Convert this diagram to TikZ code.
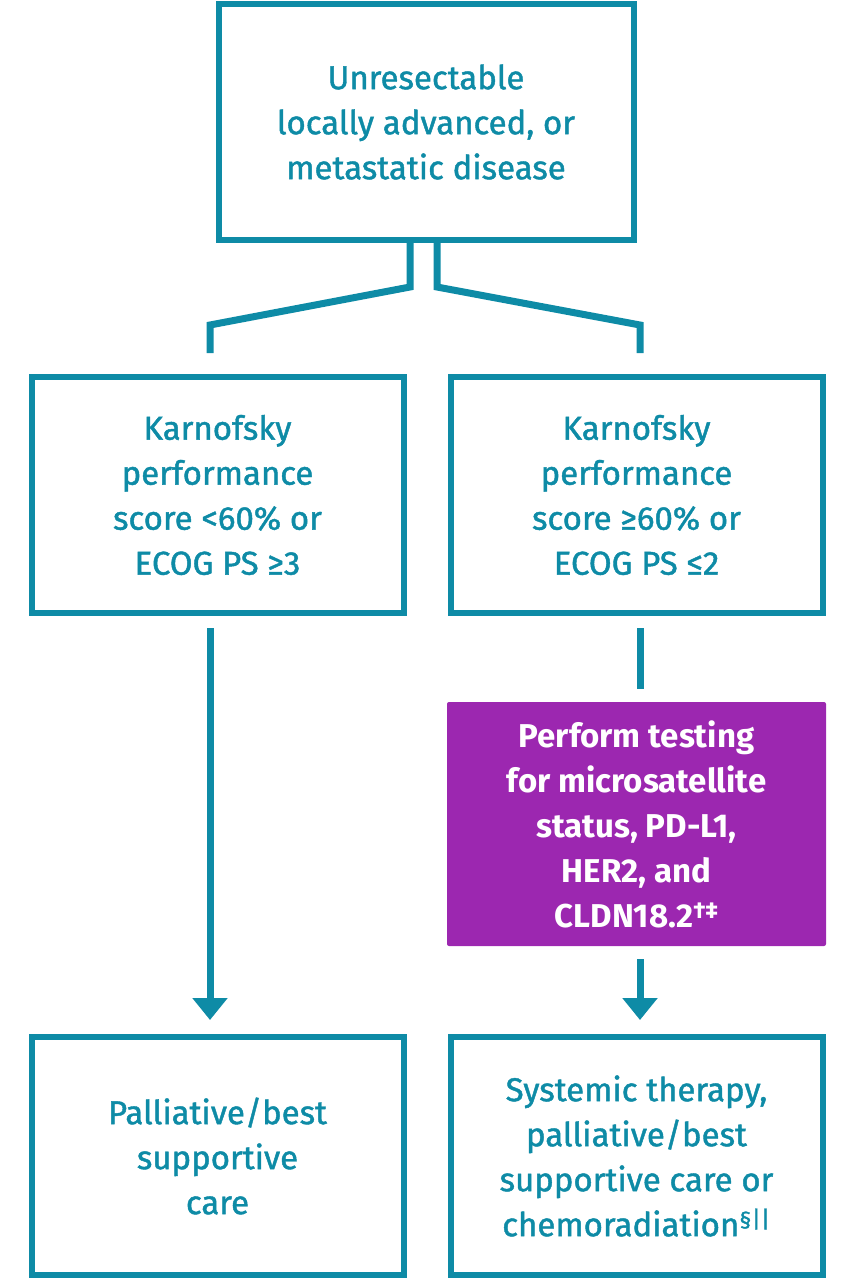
\documentclass[tikz,border=0pt]{standalone}
\usepackage{fontspec}
\setmainfont{Fira Sans}
\newfontfamily\medfont[FakeBold=1.3]{Fira Sans}
\usetikzlibrary{arrows.meta}
\definecolor{teal}{HTML}{0E8BA6}
\definecolor{purp}{HTML}{9C27B0}
\tikzset{
 box/.style={draw=teal,line width=6pt,text=teal,align=center,font=\medfont\fontsize{33}{45}\selectfont,inner sep=0pt},
 pbox/.style={fill=purp,text=white,align=center,font=\bfseries\fontsize{33}{45}\selectfont,inner sep=0pt,rounded corners=2pt},
 conn/.style={draw=teal,line width=7pt},
 arr/.style={conn,-{Triangle[length=22pt,width=34pt]}}
}
\begin{document}
\begin{tikzpicture}[x=1pt,y=-1pt]
\useasboundingbox (0,0) rectangle (854,1280);
\node[box,minimum width=415,minimum height=236] (top) at (426,122) {Unresectable\\locally advanced, or\\metastatic disease};
\node[box,minimum width=372,minimum height=236] (ml) at (217.5,495) {Karnofsky\\performance\\score <60\% or\\ECOG PS ≥3};
\node[box,minimum width=372,minimum height=236] (mr) at (636.5,495) {Karnofsky\\performance\\score ≥60\% or\\ECOG PS ≤2};
\node[pbox,minimum width=379,minimum height=244] (pt) at (636.5,824) {Perform testing\\for microsatellite\\status, PD-L1,\\HER2, and\\CLDN18.2\textsuperscript{†‡}};
\node[box,minimum width=372,minimum height=238] (bl) at (217.5,1156) {Palliative/best\\supportive\\care};
\node[box,minimum width=372,minimum height=238] (br) at (636.5,1156) {Systemic therapy,\\palliative/best\\supportive care or\\chemoradiation\textsuperscript{§||}};
\draw[conn] (410,243) -- (410,287) -- (210,325) -- (210,353);
\draw[conn] (437,243) -- (437,287) -- (640,325) -- (640,353);
\draw[arr] (210,628) -- (210,1020);
\draw[conn] (640,628) -- (640,689);
\draw[arr] (640,959) -- (640,1020);
\end{tikzpicture}
\end{document}
